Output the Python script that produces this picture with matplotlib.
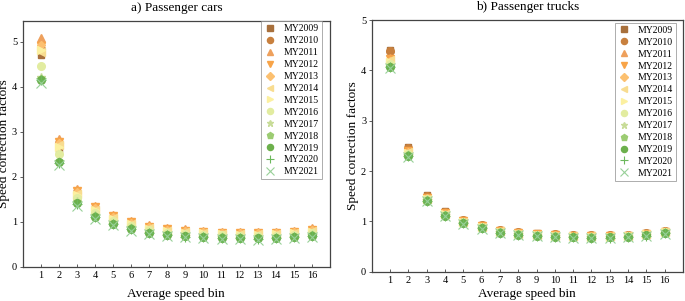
import matplotlib
matplotlib.use("Agg")
import matplotlib.pyplot as plt

plt.rcParams['font.family'] = ['Liberation Serif', 'DejaVu Serif']

bins = list(range(1, 17))
labels = ["MY2009", "MY2010", "MY2011", "MY2012", "MY2013", "MY2014", "MY2015",
          "MY2016", "MY2017", "MY2018", "MY2019", "MY2020", "MY2021"]

cars_2009 = [4.70, 2.62, 1.60, 1.26, 1.07, 0.95, 0.85, 0.79, 0.76, 0.74, 0.72, 0.71, 0.71, 0.72, 0.74, 0.78]
cars_2010 = [4.85, 2.75, 1.66, 1.30, 1.10, 0.98, 0.88, 0.82, 0.79, 0.77, 0.75, 0.74, 0.74, 0.75, 0.77, 0.81]
cars_2011 = [5.08, 2.85, 1.72, 1.35, 1.15, 1.02, 0.92, 0.86, 0.83, 0.80, 0.78, 0.77, 0.77, 0.78, 0.80, 0.85]
cars_2012 = [4.90, 2.78, 1.68, 1.32, 1.12, 1.00, 0.89, 0.83, 0.80, 0.78, 0.76, 0.75, 0.75, 0.76, 0.78, 0.82]
cars_2013 = [4.92, 2.76, 1.66, 1.30, 1.10, 0.98, 0.88, 0.82, 0.79, 0.77, 0.75, 0.74, 0.74, 0.75, 0.77, 0.81]
cars_2014 = [4.78, 2.70, 1.62, 1.27, 1.08, 0.96, 0.86, 0.80, 0.77, 0.75, 0.73, 0.72, 0.72, 0.73, 0.75, 0.79]
cars_2015 = [4.82, 2.66, 1.60, 1.25, 1.06, 0.94, 0.84, 0.79, 0.76, 0.74, 0.72, 0.71, 0.71, 0.72, 0.74, 0.78]
cars_2016 = [4.47, 2.50, 1.52, 1.19, 1.01, 0.90, 0.81, 0.76, 0.73, 0.71, 0.70, 0.69, 0.68, 0.69, 0.71, 0.75]
cars_2017 = [4.22, 2.36, 1.45, 1.14, 0.97, 0.86, 0.77, 0.72, 0.70, 0.68, 0.66, 0.65, 0.65, 0.66, 0.68, 0.71]
cars_2018 = [4.17, 2.33, 1.42, 1.12, 0.96, 0.85, 0.76, 0.71, 0.68, 0.66, 0.65, 0.64, 0.63, 0.64, 0.66, 0.70]
cars_2019 = [4.15, 2.32, 1.41, 1.11, 0.95, 0.84, 0.75, 0.70, 0.68, 0.66, 0.64, 0.63, 0.63, 0.64, 0.66, 0.69]
cars_2020 = [4.14, 2.31, 1.40, 1.10, 0.94, 0.83, 0.74, 0.70, 0.67, 0.65, 0.64, 0.63, 0.62, 0.63, 0.65, 0.69]
cars_2021 = [4.08, 2.26, 1.36, 1.07, 0.92, 0.80, 0.72, 0.68, 0.65, 0.63, 0.62, 0.61, 0.60, 0.61, 0.63, 0.67]

trucks_2009 = [4.40, 2.48, 1.52, 1.20, 1.03, 0.93, 0.83, 0.78, 0.76, 0.74, 0.73, 0.72, 0.72, 0.73, 0.77, 0.81]
trucks_2010 = [4.38, 2.45, 1.50, 1.19, 1.02, 0.92, 0.82, 0.78, 0.75, 0.74, 0.72, 0.72, 0.72, 0.73, 0.76, 0.81]
trucks_2011 = [4.25, 2.40, 1.47, 1.17, 1.00, 0.90, 0.81, 0.77, 0.74, 0.73, 0.71, 0.71, 0.71, 0.72, 0.75, 0.80]
trucks_2012 = [4.22, 2.39, 1.46, 1.16, 1.00, 0.90, 0.80, 0.76, 0.74, 0.72, 0.71, 0.70, 0.70, 0.71, 0.75, 0.79]
trucks_2013 = [4.18, 2.37, 1.46, 1.15, 0.99, 0.89, 0.80, 0.76, 0.73, 0.72, 0.70, 0.70, 0.70, 0.71, 0.74, 0.79]
trucks_2014 = [4.20, 2.38, 1.45, 1.15, 0.99, 0.89, 0.80, 0.75, 0.73, 0.71, 0.70, 0.70, 0.70, 0.71, 0.74, 0.78]
trucks_2015 = [4.17, 2.36, 1.45, 1.14, 0.98, 0.88, 0.79, 0.75, 0.73, 0.71, 0.70, 0.69, 0.69, 0.70, 0.74, 0.78]
trucks_2016 = [4.12, 2.34, 1.44, 1.13, 0.98, 0.88, 0.79, 0.74, 0.72, 0.71, 0.69, 0.69, 0.69, 0.70, 0.73, 0.78]
trucks_2017 = [4.09, 2.32, 1.43, 1.12, 0.97, 0.87, 0.78, 0.74, 0.72, 0.70, 0.69, 0.68, 0.68, 0.69, 0.72, 0.77]
trucks_2018 = [4.07, 2.31, 1.42, 1.12, 0.97, 0.87, 0.78, 0.74, 0.71, 0.70, 0.68, 0.68, 0.68, 0.69, 0.72, 0.77]
trucks_2019 = [4.06, 2.30, 1.41, 1.11, 0.96, 0.86, 0.77, 0.73, 0.71, 0.69, 0.68, 0.67, 0.68, 0.69, 0.72, 0.76]
trucks_2020 = [4.06, 2.30, 1.41, 1.11, 0.96, 0.86, 0.77, 0.73, 0.71, 0.69, 0.68, 0.67, 0.67, 0.68, 0.71, 0.76]
trucks_2021 = [4.04, 2.28, 1.40, 1.10, 0.95, 0.85, 0.76, 0.72, 0.70, 0.69, 0.67, 0.67, 0.67, 0.68, 0.71, 0.75]

cars = [cars_2009, cars_2010, cars_2011, cars_2012, cars_2013, cars_2014, cars_2015,
        cars_2016, cars_2017, cars_2018, cars_2019, cars_2020, cars_2021]
trucks = [trucks_2009, trucks_2010, trucks_2011, trucks_2012, trucks_2013, trucks_2014, trucks_2015,
          trucks_2016, trucks_2017, trucks_2018, trucks_2019, trucks_2020, trucks_2021]

markers = ['s', 'o', '^', 'v', 'D', '<', '>', 'o', '*', 'p', 'o', '+', 'x']
sizes = [5, 5.5, 6, 6, 4.5, 6, 6, 5.5, 6, 6, 5.5, 6.5, 6.5]
colors = ['#a8703c', '#c8803e', '#eea05c', '#f8a448', '#fcc070', '#f8dc90', '#fcf0a0',
          '#e2eca0', '#c8dc98', '#9ccc72', '#6cb04c', '#6cb85c', '#98d098']

fig = plt.figure(figsize=(6.85, 3.01), dpi=100)
ax1 = fig.add_axes([0.0331, 0.114, 0.4487, 0.8173])
ax2 = fig.add_axes([0.5426, 0.0973, 0.4545, 0.836])

def draw(ax, data, title, ylim, anchor, xlabelpad):
    for vals, m, s, c, lab in zip(data, markers, sizes, colors, labels):
        if m in ('+', 'x'):
            ax.plot(bins, vals, linestyle='none', marker=m, ms=s, color=c, mew=0.8, label=lab)
        else:
            ax.plot(bins, vals, linestyle='none', marker=m, ms=s, color=c, mec=c, label=lab)
    ax.set_xlim(0, 17)
    ax.set_ylim(*ylim)
    ax.set_xticks(bins)
    ax.set_yticks([0, 1, 2, 3, 4, 5])
    ax.tick_params(axis='both', labelsize=7.5, length=2.5, width=0.6, color='#444444', pad=1.5)
    ax.tick_params(axis='x', direction='in', pad=3)
    for sp in ax.spines.values():
        sp.set_color('#444444')
        sp.set_linewidth(0.9)
    ax.set_title(title, fontsize=9.5, pad=7)
    ax.set_xlabel('Average speed bin', fontsize=9.5, labelpad=xlabelpad)
    ax.set_ylabel('Speed correction factors', fontsize=9.5, labelpad=1)
    leg = ax.legend(loc='upper right', bbox_to_anchor=anchor, fontsize=7, frameon=True,
                    fancybox=False, edgecolor='#888888', labelspacing=0.3, handletextpad=0.7,
                    borderpad=0.3, borderaxespad=0, handlelength=1.4, markerscale=0.8)
    leg.get_frame().set_linewidth(0.6)

draw(ax1, cars, 'a) Passenger cars', (0, 5.47), (0.974, 0.997), 6)
draw(ax2, trucks, 'b) Passenger trucks', (0, 5), (0.9775, 0.989), 2)

fig.savefig('out.png', dpi=100)
